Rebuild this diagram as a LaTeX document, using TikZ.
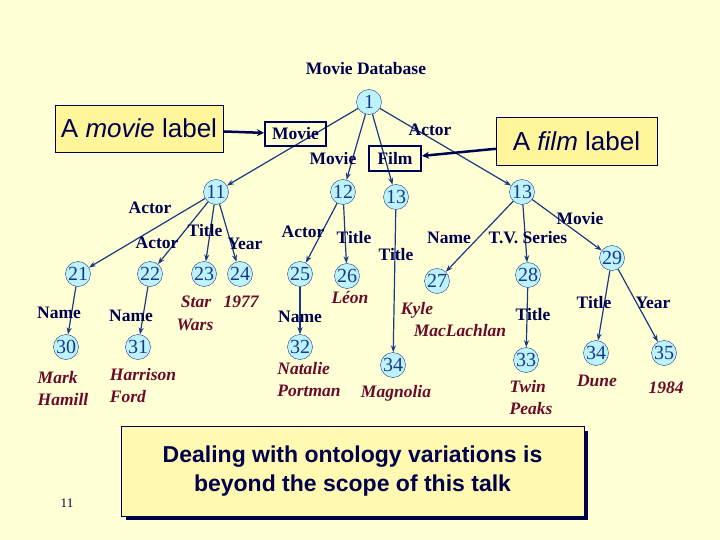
\documentclass[tikz,border=0pt]{standalone}
\usepackage{fontspec}
\setmainfont{Liberation Serif}
\setsansfont{Liberation Sans}
\usetikzlibrary{arrows.meta,shadows}
\definecolor{bg}{HTML}{FFFFD6}
\definecolor{navy}{HTML}{000050}
\definecolor{edge}{HTML}{1A3A80}
\definecolor{cyanf}{HTML}{BDF2FF}
\definecolor{wine}{HTML}{6A0A2A}
\definecolor{lbl}{HTML}{FFF59A}
\begin{document}
\begin{tikzpicture}[x=1pt,y=-1pt,
  num/.style={circle,draw=edge,fill=cyanf,inner sep=0pt,minimum size=25,font=\fontsize{20}{20}\selectfont,text=edge},
  lab/.style={font=\fontsize{17.5}{17.5}\selectfont\bfseries,text=navy,inner sep=0pt},
  val/.style={font=\fontsize{17.5}{22}\selectfont\bfseries\itshape,text=wine,inner sep=0pt,align=left},
  ed/.style={draw=edge,line width=1.2pt,-{Stealth[length=7pt,width=5pt]}},
  lbox/.style={draw=navy,fill=lbl,font=\sffamily\fontsize{26}{26}\selectfont,text=navy,inner sep=0pt},
  tbox/.style={draw=navy,line width=2pt,font=\fontsize{17.5}{17.5}\selectfont\bfseries,text=navy,inner sep=2pt}]
\fill[bg] (0,0) rectangle (720,540);
\useasboundingbox (0,0) rectangle (720,540);
\node[lab] (title) at (366,69) {Movie Database};
% numbered nodes
\node[num] (n1) at (369,102) {1};
\node[num] (n11) at (216,192) {11};
\node[num] (n12) at (343,192) {12};
\node[num] (n13a) at (396,197) {13};
\node[num] (n13b) at (522,192) {13};
\node[num] (n29) at (612,258) {29};
\node[num] (n21) at (78,274) {21};
\node[num] (n22) at (150,274) {22};
\node[num] (n23) at (204,274) {23};
\node[num] (n24) at (240,274) {24};
\node[num] (n25) at (300,274) {25};
\node[num] (n26) at (347,276) {26};
\node[num] (n27) at (437,281) {27};
\node[num] (n28) at (528,275) {28};
\node[num] (n30) at (66,347) {30};
\node[num] (n31) at (138,347) {31};
\node[num] (n32) at (300,347) {32};
\node[num] (n34a) at (393,365) {34};
\node[num] (n33) at (526,360) {33};
\node[num] (n34b) at (596,353) {34};
\node[num] (n35) at (664,353) {35};
% edges
\foreach \a/\b in {n1/n11,n1/n12,n1/n13a,n1/n13b,n11/n21,n11/n22,n11/n23,n11/n24,n12/n25,n12/n26,n13a/n34a,n13b/n27,n13b/n28,n13b/n29,n21/n30,n22/n31,n25/n32,n28/n33,n29/n34b,n29/n35}
  \draw[ed] (\a) -- (\b);
% edge labels
\node[lab] (l1) at (430,130) {Actor};
\node[lab] (l2) at (333,159) {Movie};
\node[lab] (l3) at (150,208) {Actor};
\node[lab] (l4) at (157,243) {Actor};
\node[lab] (l5) at (205,231) {Title};
\node[lab] (l6) at (245,244) {Year};
\node[lab] (l7) at (303,232) {Actor};
\node[lab] (l8) at (354,238) {Title};
\node[lab] (l9) at (396,255) {Title};
\node[lab] (l10) at (449,238) {Name};
\node[lab] (l11) at (528,238) {T.V. Series};
\node[lab] (l12) at (580,219) {Movie};
\node[lab] (l13) at (594,303) {Title};
\node[lab] (l14) at (653,303) {Year};
\node[lab] (l15) at (59,313) {Name};
\node[lab] (l16) at (131,316) {Name};
\node[lab] (l17) at (300,317) {Name};
\node[lab] (l18) at (533,315) {Title};
% values
\node[val] (v1) at (196,302) {Star};
\node[val] (v2) at (241,302) {1977};
\node[val] (v3) at (195,325) {Wars};
\node[val] (v4) at (350,298) {Léon};
\node[val] (v5) at (417,310) {Kyle};
\node[val] (v6) at (460,331) {MacLachlan};
\node[val,align=left] (v7) at (63,389) {Mark\\Hamill};
\node[val,align=left] (v8) at (143,386) {Harrison\\Ford};
\node[val,align=left] (v9) at (309,380) {Natalie\\Portman};
\node[val] (v10) at (396,393) {Magnolia};
\node[val,align=left] (v11) at (531,398) {Twin\\Peaks};
\node[val] (v12) at (597,381) {Dune};
\node[val] (v13) at (666,388) {1984};
% label boxes
\node[lbox,minimum width=168,minimum height=47] (ml) at (139,128.5) {A \textit{movie} label};
\node[tbox,minimum width=61,minimum height=24] (mv) at (295.5,134) {Movie};
\node[lbox,minimum width=161,minimum height=48] (fl) at (576.5,141) {A \textit{film} label};
\node[tbox,minimum width=52,minimum height=25] (fm) at (395,158.5) {Film};
\draw[draw=navy,line width=2.5pt,-{Stealth[length=7pt,width=7pt]}] (ml) -- (mv);
\draw[draw=navy,line width=2.5pt,-{Stealth[length=7pt,width=7pt]}] (fl) -- (fm);
% bottom box
\fill[navy!90!black] (126,431) rectangle (588,520);
\node[draw=navy,fill=lbl!60!bg,minimum width=463,minimum height=90,inner sep=0pt,align=center,
  font=\sffamily\bfseries\fontsize{23}{29}\selectfont,text=navy!60!blue!50!black] (note) at (352.5,471)
  {Dealing with ontology variations is\\beyond the scope of this talk};
\node[font=\fontsize{13}{13}\selectfont,text=navy] (pg) at (67,503) {11};
\end{tikzpicture}
\end{document}
